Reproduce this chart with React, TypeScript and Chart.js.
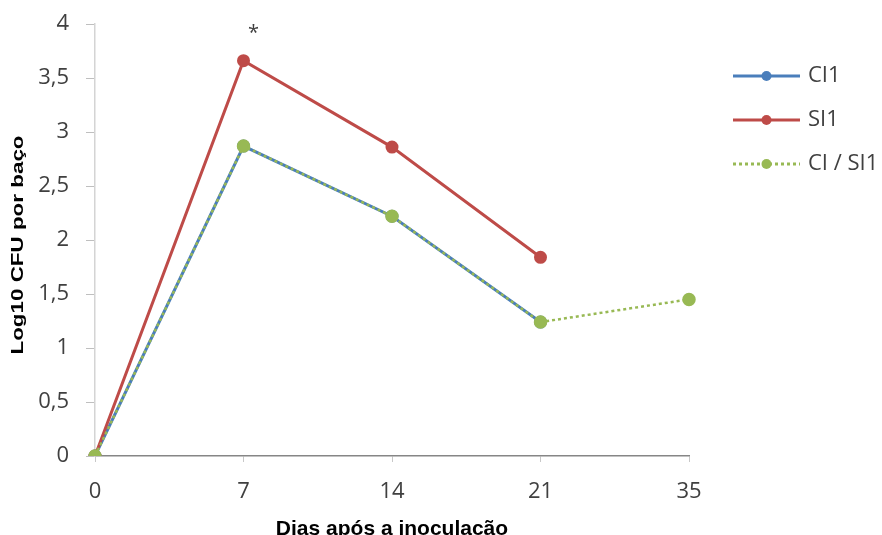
import React, { useEffect, useRef } from "react";
import { Chart, registerables } from "chart.js";

Chart.register(...registerables);

// Days after inoculation (category axis, evenly spaced)
const days = ["0", "7", "14", "21", "35"];

// Log10 CFU per spleen
const ci1 = [0, 2.87, 2.22, 1.24, null];
const si1 = [0, 3.66, 2.86, 1.84, null];
const ciSi1 = [0, 2.87, 2.22, 1.24, 1.45];

const seriesNames = ["CI1", "SI1", "CI / SI1"];
const seriesColors = ["#4a7ebb", "#be4b48", "#98b954"];

const yTicks = [0, 0.5, 1, 1.5, 2, 2.5, 3, 3.5, 4];

const labelFont = "'Open Sans', sans-serif";
const titleFont = "'Liberation Sans', Arial, sans-serif";

// Legend on the right, an asterisk over the SI1 peak and the rotated y title
const extrasPlugin = {
  id: "extras",
  afterDraw(chart: any) {
    const { ctx, chartArea } = chart;
    ctx.save();

    // significance mark over day 7
    const redMeta = chart.getDatasetMeta(1);
    const peak = redMeta.data[1];
    if (peak) {
      ctx.fillStyle = "#404040";
      ctx.font = `20px ${labelFont}`;
      ctx.textAlign = "center";
      ctx.textBaseline = "middle";
      ctx.fillText("*", peak.x + 10, peak.y - 27);
    }

    // legend
    const lx0 = chartArea.right + 44;
    const lx1 = lx0 + 67;
    const ly0 = 76;
    const step = 44;
    chart.data.datasets.forEach((ds: any, i: number) => {
      const y = ly0 + i * step;
      ctx.strokeStyle = ds.borderColor;
      ctx.lineWidth = 3;
      ctx.setLineDash(ds.borderDash || []);
      ctx.beginPath();
      ctx.moveTo(lx0, y);
      ctx.lineTo(lx1, y);
      ctx.stroke();
      ctx.setLineDash([]);
      ctx.fillStyle = ds.pointBackgroundColor;
      ctx.beginPath();
      ctx.arc((lx0 + lx1) / 2, y, 5, 0, Math.PI * 2);
      ctx.fill();
      ctx.fillStyle = "#404040";
      ctx.font = `22px ${labelFont}`;
      ctx.textAlign = "left";
      ctx.textBaseline = "middle";
      ctx.fillText(ds.label, lx1 + 8, y);
    });

    // y-axis title
    ctx.translate(19, (chartArea.top + chartArea.bottom) / 2 + 5);
    ctx.rotate(-Math.PI / 2);
    ctx.scale(1.4, 1);
    ctx.fillStyle = "#000";
    ctx.font = `bold 16px ${titleFont}`;
    ctx.textAlign = "center";
    ctx.textBaseline = "middle";
    ctx.fillText("Log10 CFU por baço", 0, 0);
    ctx.restore();
  },
};

export default function App() {
  const canvasRef = useRef<HTMLCanvasElement | null>(null);

  useEffect(() => {
    document.body.style.margin = "0";
    const canvas = canvasRef.current;
    if (!canvas) return;

    const chart = new Chart(canvas, {
      type: "line",
      data: {
        labels: days,
        datasets: [
          {
            label: seriesNames[0],
            data: ci1,
            borderColor: seriesColors[0],
            backgroundColor: seriesColors[0],
            pointBackgroundColor: seriesColors[0],
            pointBorderColor: seriesColors[0],
            borderWidth: 3,
            pointRadius: 5,
            tension: 0,
            order: 2,
          },
          {
            label: seriesNames[1],
            data: si1,
            borderColor: seriesColors[1],
            backgroundColor: seriesColors[1],
            pointBackgroundColor: seriesColors[1],
            pointBorderColor: seriesColors[1],
            borderWidth: 3,
            pointRadius: 5,
            tension: 0,
            order: 1,
          },
          {
            label: seriesNames[2],
            data: ciSi1,
            borderColor: seriesColors[2],
            backgroundColor: seriesColors[2],
            pointBackgroundColor: seriesColors[2],
            pointBorderColor: seriesColors[2],
            borderWidth: 2.5,
            borderDash: [3, 3],
            pointRadius: 5.5,
            tension: 0,
            order: 0,
          },
        ],
      },
      options: {
        responsive: false,
        animation: false,
        layout: { padding: { left: 0, top: 24, right: 193, bottom: 0 } },
        plugins: {
          legend: { display: false },
          tooltip: { enabled: false },
        },
        scales: {
          x: {
            type: "category",
            offset: false,
            grid: {
              drawOnChartArea: false,
              drawTicks: true,
              tickLength: 6,
              color: "#c8c8c8",
            },
            border: { display: true, color: "#868686", width: 1.5 },
            ticks: {
              color: "#404040",
              font: { family: labelFont, size: 22 },
              padding: 17,
              maxRotation: 0,
            },
            title: {
              display: true,
              text: "Dias após a inoculação",
              color: "#000",
              font: { family: titleFont, size: 21, weight: "bold", lineHeight: 1 },
              padding: { top: 0, bottom: -5 },
            },
            afterFit: (scale: any) => {
              scale.height = 79;
            },
          },
          y: {
            min: 0,
            max: 4,
            afterBuildTicks: (scale: any) => {
              scale.ticks = yTicks.map((v) => ({ value: v }));
            },
            grid: {
              drawOnChartArea: false,
              drawTicks: true,
              tickLength: 9,
              color: "#bfbfbf",
            },
            border: { display: true, color: "#d4d4d4", width: 1.5 },
            ticks: {
              color: "#404040",
              font: { family: labelFont, size: 22 },
              padding: 17,
              callback: (v: any) => String(v).replace(".", ","),
            },
            afterFit: (scale: any) => {
              scale.width = 95;
              scale.paddingTop = 0;
              scale.paddingBottom = 0;
            },
          },
        },
      },
      plugins: [extrasPlugin],
    });

    return () => chart.destroy();
  }, []);

  return (
    <div style={{ width: 882, height: 535 }}>
      <canvas ref={canvasRef} width={882} height={535} />
    </div>
  );
}
